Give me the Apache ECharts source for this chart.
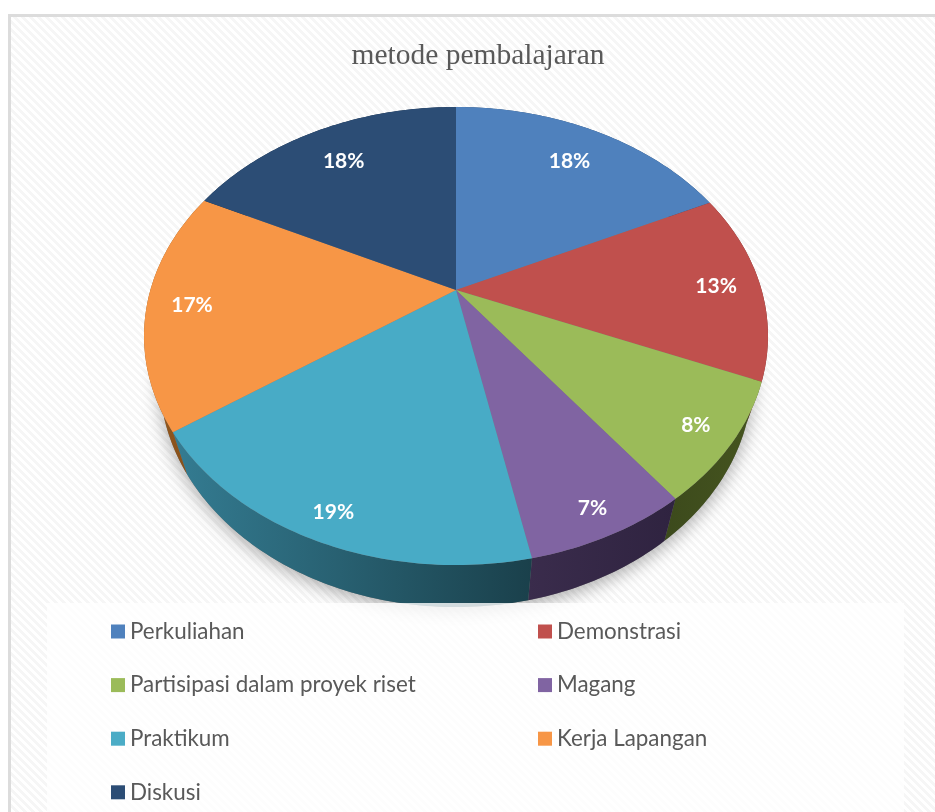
<!DOCTYPE html>
<html><head><meta charset="utf-8">
<style>html,body{margin:0;padding:0;background:#fff}#c{width:935px;height:812px}</style>
<script src="https://cdn.jsdelivr.net/npm/echarts@6/dist/echarts.min.js"></script>
</head><body><div id="c"></div>
<script>
const categories = ['Perkuliahan','Demonstrasi','Partisipasi dalam proyek riset','Magang','Praktikum','Kerja Lapangan','Diskusi'];
const values = [17.9,13.4,8.4,7.1,18.5,17.0,17.7];
const topColors = ['#4f81bd','#c0504d','#9bbb59','#8064a2','#48abc6','#f79646','#2c4d75'];
const legendColors = ['#4f81bd','#c0504d','#9bbb59','#8064a2','#4bacc6','#f79646','#2c4d75'];
const wallColors = [['#2f4d71','#2f4d71'],['#73302e','#73302e'],['#3c4a1c','#46551f'],['#3a2c4c','#2f2340'],['#347c92','#1a404b'],['#9a5a1e','#7a4a18'],['#1a2e46','#1a2e46']];
const labelDepth = [0.79,0.855,0.885,0.905,0.9,0.855,0.79];

// projection of the tilted disc
const P = {cx:456, cy:290, a:305.6, b:219.8, k:0.2009, shrink:0.95, depth:42};
const total = values.reduce((s,v)=>s+v,0);
function project(theta, r){
  const x=r*Math.sin(theta), y=r*Math.cos(theta), w=1+P.k*y;
  return [P.cx+P.a*x/w, P.cy-P.b*y/w];
}
function lower(p){ return [P.cx+(p[0]-P.cx)*P.shrink, p[1]+P.depth]; }
function arc(a0,a1){
  const n=Math.max(2,Math.ceil((a1-a0)*60)), pts=[];
  for(let j=0;j<=n;j++) pts.push(project(a0+(a1-a0)*j/n,1));
  return pts;
}
function makeTile(){
  const c=document.createElement('canvas'); c.width=8;c.height=8;
  const g=c.getContext('2d');
  for(let x=0;x<8;x++)for(let y=0;y<8;y++){
    g.fillStyle=(((x-y)%8+8)%8)<4?'#ffffff':'#f6f6f6';
    g.fillRect(x,y,1,1);
  }
  return c;
}
function renderer(i){
  return function(params,api){
    const v=api.value(0), before=api.value(1);
    const a0=before/total*2*Math.PI, a1=(before+v)/total*2*Math.PI, mid=(a0+a1)/2;
    const rim=arc(a0,a1), children=[];
    if(i===0){
      const full=arc(0,2*Math.PI).map(lower);
      children.push({type:'polygon',z2:0,silent:true,shape:{points:full},
        style:{fill:'#777',shadowBlur:18,shadowColor:'rgba(0,0,0,0.34)',shadowOffsetY:4}});
    }
    children.push({type:'polygon',z2:2+i,shape:{points:rim.concat(rim.map(lower).reverse())},
      style:{fill:new echarts.graphic.LinearGradient(0,0,1,0,[{offset:0,color:wallColors[i][0]},{offset:1,color:wallColors[i][1]}])}});
    children.push({type:'polygon',z2:10,shape:{points:[[P.cx,P.cy]].concat(rim)},style:{fill:topColors[i]}});
    const lp=project(mid,labelDepth[i]);
    children.push({type:'text',z2:20,x:lp[0],y:lp[1]+1,style:{text:Math.round(v)+'%',fill:'#fff',
      font:'bold 21px Lato',align:'center',verticalAlign:'middle'}});
    return {type:'group',children};
  };
}
let acc=0;
const series=categories.map((n,i)=>{
  const s={type:'custom',name:n,coordinateSystem:'none',z:2,clip:false,
    itemStyle:{color:legendColors[i]},data:[[values[i],acc]],renderItem:renderer(i),
    encode:{value:[0,1]}};
  acc+=values[i];return s;
});
const chart=echarts.init(document.getElementById('c'),null,{renderer:'canvas'});
chart.setOption({
  animation:false,
  title:{text:'metode pembalajaran',left:473,top:36,textAlign:'center',
    textStyle:{fontFamily:'Liberation Serif',fontWeight:'normal',fontSize:29.5,color:'#595959'}},
  legend:categories.map((n,i)=>({data:[n],orient:'horizontal',left:i%2?538:111,top:620.5+Math.floor(i/2)*53.6,padding:0,
    icon:'rect',itemWidth:14,itemHeight:14,itemGap:0,selectedMode:false,z:5,
    textStyle:{fontFamily:'Lato',fontSize:22.4,color:'#595959',padding:[0,0,0,0]}})),
  graphic:[
    {type:'rect',z:0,silent:true,shape:{x:9.5,y:15.5,width:940,height:820},
      style:{fill:{image:makeTile(),repeat:'repeat'},stroke:'#dcdcdc',lineWidth:3}},
    {type:'rect',z:3,silent:true,shape:{x:47,y:603,width:857,height:215},
      style:{fill:'rgba(255,255,255,0.8)'}}
  ],
  series
});
</script></body></html>
